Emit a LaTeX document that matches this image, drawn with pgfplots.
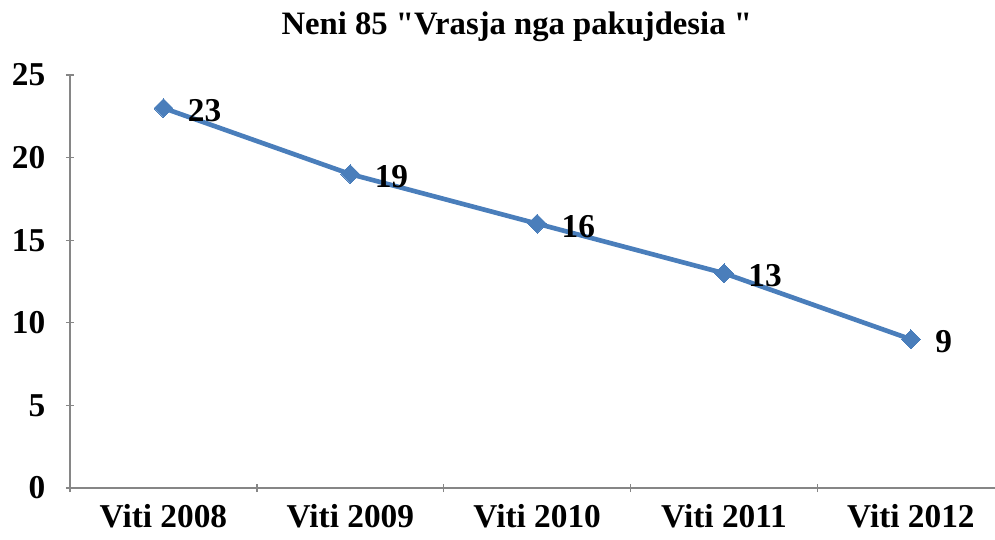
\documentclass[border=0pt]{standalone}
\usepackage{pgfplots}
\pgfplotsset{compat=1.18}
\usepackage{fontspec}
\setmainfont{Liberation Serif}[Ligatures=TeXOff]
\definecolor{lineblue}{HTML}{4A7EBB}
\definecolor{axgray}{HTML}{868686}
\begin{document}
\begin{tikzpicture}
\begin{axis}[
  scale only axis,
  width=693.75pt, height=309.75pt,
  xmin=-0.5, xmax=4.45,
  ymin=0, ymax=25,
  ytick={0,5,10,15,20,25},
  xtick={0,1,2,3,4},
  xticklabels={Viti 2008,Viti 2009,Viti 2010,Viti 2011,Viti 2012},
  minor xtick={-0.5,0.5,1.5,2.5,3.5},
  major x tick style={draw=none},
  minor tick length=6pt,
  major tick length=6pt,
  tick align=outside,
  axis x line=bottom, axis y line=left,
  axis line style={draw=axgray, line width=1pt, -},
  tick style={draw=axgray, line width=1pt},
  every tick label/.append style={font=\fontsize{25}{28}\selectfont\bfseries},
  /pgf/number format/assume math mode=true,
  yticklabel style={xshift=-12pt},
  xticklabel style={yshift=-6pt},
  clip=false,
]
\addplot[color=lineblue, line width=3.5pt, mark=square*, mark size=5pt,
  mark options={fill=lineblue, draw=lineblue, line width=0pt, rotate=45},
  nodes near coords,
  every node near coord/.append style={anchor=west, xshift=15pt, yshift=-2pt, text=black, font=\fontsize{25}{28}\selectfont\bfseries}]
  coordinates {(0,23) (1,19) (2,16) (3,13) (4,9)};
\node[font=\fontsize{24.5}{28}\selectfont\bfseries, anchor=base] at (rel axis cs:0.483,1) [yshift=30pt] {Neni 85 "Vrasja nga pakujdesia "};
\end{axis}
\pgfresetboundingbox
\useasboundingbox ([xshift=-52.5pt,yshift=-38.25pt]current axis.south west) rectangle ([yshift=56.25pt]current axis.north east);
\end{tikzpicture}
\end{document}
